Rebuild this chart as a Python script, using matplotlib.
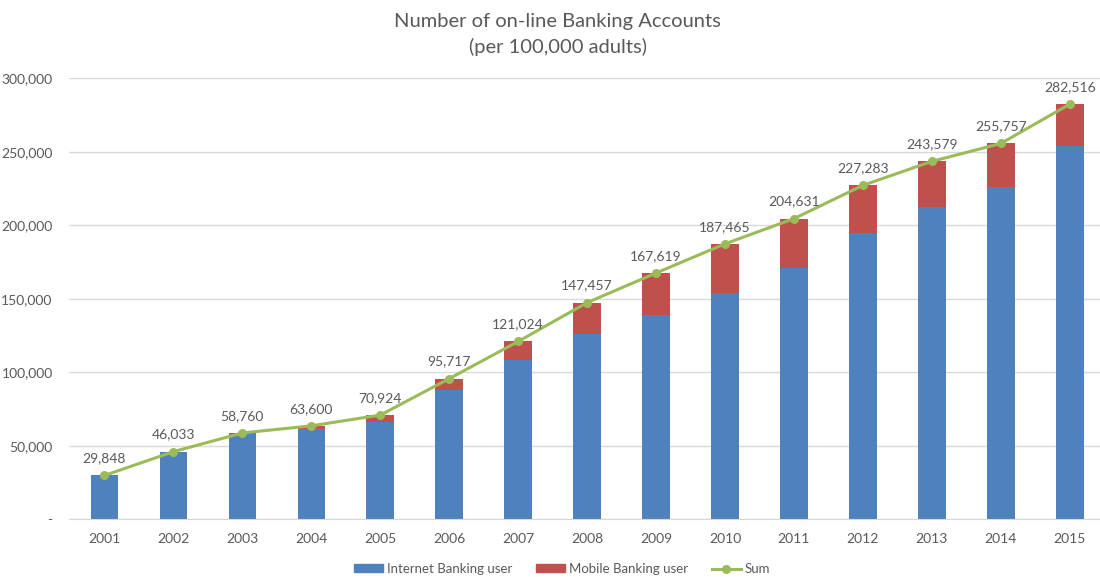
import matplotlib
matplotlib.use("Agg")
import matplotlib.pyplot as plt
from matplotlib.ticker import FuncFormatter
from matplotlib.lines import Line2D
from matplotlib.patches import Patch

years = ["2001", "2002", "2003", "2004", "2005", "2006", "2007", "2008",
         "2009", "2010", "2011", "2012", "2013", "2014", "2015"]
totals = [29848, 46033, 58760, 63600, 70924, 95717, 121024, 147457,
          167619, 187465, 204631, 227283, 243579, 255757, 282516]
internet = [29848, 45700, 58300, 61600, 66100, 88300, 108200, 125900,
            139300, 154000, 171000, 194800, 212400, 226400, 253800]
mobile = [t - i for t, i in zip(totals, internet)]

blue = "#4F81BD"
red = "#C0504D"
green = "#9BBB59"
txt = "#595959"

plt.rcParams['font.family'] = ['Lato', 'DejaVu Sans']

fig = plt.figure(figsize=(11, 5.77), dpi=100)
ax = fig.add_axes([0.063, 0.1, 0.9415, 0.764])

x = list(range(len(years)))
ax.bar(x, internet, width=0.40, color=blue, zorder=2)
ax.bar(x, mobile, width=0.40, bottom=internet, color=red, zorder=2)
ax.plot(x, totals, color=green, lw=2.2, marker='o', ms=5.5, zorder=3)

for xi, t in zip(x, totals):
    ax.annotate(f"{t:,}", (xi, t), xytext=(0, 8), textcoords='offset points',
                ha='center', va='bottom', fontsize=10, color=txt)

ax.set_xlim(-0.51, 14.51)
ax.set_ylim(0, 300000)
ax.set_yticks(range(0, 300001, 50000))
ax.yaxis.set_major_formatter(FuncFormatter(lambda v, p: "-" if v == 0 else f"{int(v):,}"))
ax.set_xticks(x)
ax.set_xticklabels(years)
ax.tick_params(axis='both', length=0, labelsize=10, colors=txt)
ax.tick_params(axis='x', pad=10)
ax.tick_params(axis='y', pad=12)
ax.grid(axis='y', color='#D9D9D9', lw=1, zorder=0)
for s in ['top', 'right', 'left']:
    ax.spines[s].set_visible(False)
ax.spines['bottom'].set_color('#D9D9D9')

fig.text(0.507, 0.962, "Number of on-line Banking Accounts", ha='center', va='center',
         fontsize=14.5, color=txt)
fig.text(0.507, 0.918, "(per 100,000 adults)", ha='center', va='center',
         fontsize=14.5, color=txt)

handles = [Patch(color=blue), Patch(color=red),
           Line2D([], [], color=green, lw=2.2, marker='o', ms=5.5)]
labels = ["Internet Banking user", "Mobile Banking user", "Sum"]
fig.legend(handles, labels, loc='center', bbox_to_anchor=(0.511, 0.014), ncol=3,
           frameon=False, fontsize=9.5, labelcolor=txt, handlelength=2.2,
           handleheight=0.6, columnspacing=1.8, handletextpad=0.3)

fig.savefig("out.png", dpi=100)
